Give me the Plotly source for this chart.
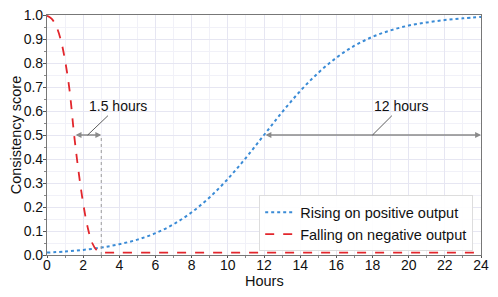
import plotly.graph_objects as go

# Data
hours_rise = list(range(0, 25))
rising = [0.010, 0.0146, 0.0212, 0.031, 0.045, 0.064, 0.091, 0.128, 0.178, 0.241,
          0.317, 0.405, 0.500, 0.595, 0.683, 0.759, 0.822, 0.872, 0.909, 0.936,
          0.956, 0.969, 0.979, 0.986, 0.992]

hours_fall = [0, 0.25, 0.5, 0.75, 1.0, 1.25, 1.5, 1.75, 2.0, 2.25, 2.5, 2.75, 3.0,
              3.5, 4, 6, 8, 10, 12, 14, 16, 18, 20, 22, 24]
falling = [0.997, 0.985, 0.955, 0.90, 0.81, 0.685, 0.50, 0.345, 0.215, 0.115, 0.05,
           0.02, 0.011, 0.01, 0.01, 0.01, 0.01, 0.01, 0.01, 0.01, 0.01, 0.01, 0.01, 0.01, 0.01]

x_ticks = list(range(0, 25, 2))
y_ticks = [round(i * 0.1, 1) for i in range(11)]

fall_span = (1.5, 3.0)
rise_span = (12.0, 24.0)
level = 0.5

FONT = "Liberation Sans, Arial, sans-serif"
BLUE = "#3a8bd6"
RED = "#e2262c"

fig = go.Figure()
fig.add_trace(go.Scatter(x=hours_rise, y=rising, mode="lines", name="Rising on positive output",
                         line=dict(color=BLUE, width=2, dash="dot", shape="spline")))
fig.add_trace(go.Scatter(x=hours_fall, y=falling, mode="lines", name="Falling on negative output",
                         line=dict(color=RED, width=1.8, dash="dash", shape="spline")))

# vertical dotted line at end of fall span
fig.add_shape(type="line", xref="x", yref="y", x0=fall_span[1], x1=fall_span[1], y0=0, y1=level,
              line=dict(color="#999999", width=1, dash="dot"))

arrow_col = "#8a8a8a"
for a, b in (fall_span, rise_span):
    fig.add_annotation(x=b, y=level, ax=a, ay=level, xref="x", yref="y", axref="x", ayref="y",
                       text="", showarrow=True, arrowhead=2, startarrowhead=2, arrowside="end+start",
                       arrowsize=0.9, startarrowsize=0.9, arrowwidth=1.3, arrowcolor=arrow_col,
                       standoff=0, startstandoff=0)

labels = [("1.5 hours", (fall_span[0] + fall_span[1]) / 2, 3.92),
          ("12 hours", (rise_span[0] + rise_span[1]) / 2, 19.6)]
for txt, xm, xt in labels:
    fig.add_annotation(x=xm, y=level, ax=xt, ay=0.62, xref="x", yref="y", axref="x", ayref="y",
                       text=txt, showarrow=True, arrowhead=0, arrowwidth=0.8, arrowcolor="#333333",
                       font=dict(family=FONT, size=14, color="#111111"), standoff=0)

# x-axis title placed as text under the axis
fig.add_annotation(x=0.5, y=0, xref="paper", yref="paper", yshift=-26, yanchor="middle",
                   text="Hours", showarrow=False, font=dict(family=FONT, size=14.5, color="#111"))

grid_major = "#e6e6f2"
grid_minor = "#f1f1f8"
fig.update_xaxes(range=[0, 24], tickvals=x_ticks, ticks="outside", ticklen=2, tickcolor="#555",
                 showline=True, linecolor="#777", linewidth=1.2, mirror=True, automargin=False,
                 ticklabeloverflow="allow", ticklabelstandoff=-5,
                 showgrid=True, gridcolor=grid_major, gridwidth=1, zeroline=False,
                 minor=dict(dtick=1, showgrid=True, gridcolor=grid_minor, ticks="outside", ticklen=2, tickcolor="#888"),
                 tickfont=dict(family=FONT, size=14, color="#111"))
fig.update_yaxes(range=[0, 1], tickvals=y_ticks, tickformat=".1f", ticks="outside", ticklen=3, tickcolor="#555",
                 showline=True, linecolor="#777", linewidth=1.2, mirror=True, automargin=False,
                 ticklabeloverflow="allow", ticklabelstandoff=-3,
                 showgrid=True, gridcolor=grid_major, gridwidth=1, zeroline=False,
                 minor=dict(dtick=0.05, showgrid=True, gridcolor=grid_minor, ticks="outside", ticklen=2, tickcolor="#888"),
                 title=dict(text="Consistency score", font=dict(family=FONT, size=14.5, color="#111"), standoff=0),
                 tickfont=dict(family=FONT, size=14, color="#111"))

fig.update_layout(width=490, height=289, margin=dict(l=39, r=17, t=7, b=42),
                  paper_bgcolor="white", plot_bgcolor="white",
                  font=dict(family=FONT, size=13, color="#111"),
                  legend=dict(x=0.982, y=0.015, xanchor="right", yanchor="bottom",
                              bgcolor="rgba(255,255,255,0.9)", bordercolor="#dddddd", borderwidth=1,
                              font=dict(family=FONT, size=14.5, color="#111"),
                              tracegroupgap=0, itemwidth=30),
                  showlegend=True)

fig.write_html("out.html")
